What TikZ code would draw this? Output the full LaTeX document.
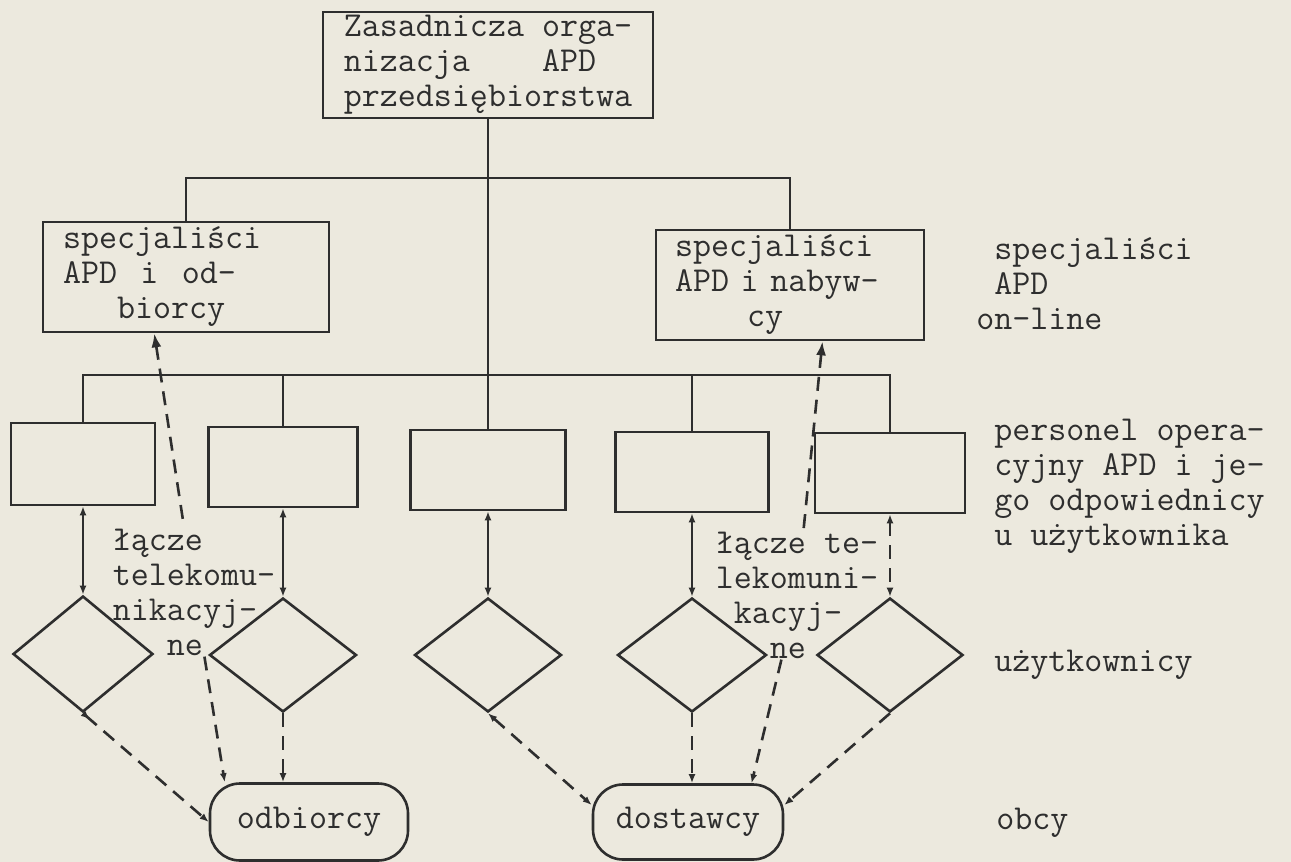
\documentclass[tikz,border=0pt]{standalone}
\usepackage{fontspec}
\usetikzlibrary{arrows.meta,calc,shapes.geometric}
\definecolor{paper}{HTML}{ECE9DE}
\definecolor{ink}{HTML}{2E2E2E}

\begin{document}
\begin{tikzpicture}[x=1pt,y=-1pt,>={Latex[length=9pt,width=7pt]},color=ink,line width=2.6pt,
    every node/.style={font=\fontsize{35}{35}\selectfont\ttfamily\addfontfeatures{FakeBold=3}},
    box/.style={draw,rectangle,inner sep=0pt},
    dia/.style={draw,diamond,inner sep=0pt,minimum height=114pt},
    term/.style={draw,rectangle,rounded corners=30pt,inner sep=0pt},
    lbl/.style={align=left,inner sep=0pt},
    link/.style={dash pattern=on 14pt off 9pt}]
  \fill[paper] (0,0) rectangle (1291,862);
  \useasboundingbox (0,0) rectangle (1291,862);

  % top of the tree
  \node[box,minimum width=330pt,minimum height=106pt,align=left] (top) at (488,65)
    {Zasadnicza orga-\\nizacja~~~~APD\\przedsiębiorstwa};
  \node[box,minimum width=286pt,minimum height=110pt,text width=246pt,align=left] (spl) at (186,277)
    {specjaliści\\APD~~i~~od-\\\hphantom{xxx}biorcy};
  \node[box,minimum width=268pt,minimum height=110pt,text width=230pt,align=left] (spr) at (790,285)
    {specjaliści\\APD i nabyw-\\\hphantom{xxxx}cy};

  % operating staff
  \node[box,minimum width=144pt,minimum height=82pt] (b1) at (83,464) {};
  \node[box,minimum width=149pt,minimum height=80pt] (b2) at (283,467) {};
  \node[box,minimum width=155pt,minimum height=80pt] (b3) at (488,470) {};
  \node[box,minimum width=153pt,minimum height=80pt] (b4) at (692,472) {};
  \node[box,minimum width=150pt,minimum height=80pt] (b5) at (890,473) {};

  % users
  \node[dia,minimum width=140pt,minimum height=116pt] (d1) at (83,654) {};
  \node[dia,minimum width=147pt] (d2) at (283,655) {};
  \node[dia,minimum width=147pt] (d3) at (488,655) {};
  \node[dia,minimum width=149pt] (d4) at (692,655) {};
  \node[dia,minimum width=146pt] (d5) at (890,655) {};

  % outsiders
  \node[term,minimum width=198pt,minimum height=77pt] (odb) at (309,822) {odbiorcy};
  \node[term,minimum width=190pt,minimum height=75pt] (dos) at (688,822) {dostawcy};

  % link labels
  \node[lbl] (lkl) at (194,592) {łącze\\telekomu-\\nikacyj-\\\hphantom{xxx}ne};
  \node[lbl] (lkr) at (797,595) {łącze te-\\lekomuni-\\\hphantom{x}kacyj-\\\hphantom{xxx}ne};

  % level names
  \node[lbl,anchor=north west] (rspec) at (975,236) {\hphantom{x}specjaliści\\\hphantom{x}APD\\on-line};
  \node[lbl,anchor=north west] (rpers) at (993,418) {personel opera-\\cyjny APD i je-\\go odpowiednicy\\u użytkownika};
  \node[lbl,anchor=west] (ruzyt) at (993,665) {użytkownicy};
  \node[lbl,anchor=west] (robcy) at (995,823) {obcy};

  % tree
  \coordinate (ubus) at (488,178);
  \coordinate (lbus) at (488,375);
  \draw (top) -- (b3);
  \draw (spl.north) |- (ubus) -| (spr.north);
  \draw (b1.north) |- (lbus) -| (b5.north);
  \draw (b2.north) -- (b2.north |- lbus);
  \draw (b4.north) -- (b4.north |- lbus);

  % staff <-> users
  \foreach \i in {1,...,4}
    \draw[<->] (b\i) -- (d\i);
  \draw[link,<->] (b5) -- (d5);

  % users -> outsiders
  \draw[link,{Latex[reversed,length=9pt,width=7pt]}-{>}] (d1.south) -- (odb.west);
  \draw[link,->] (d2.south) -- (d2.south |- odb.north);
  \draw[link,<->] (d3.south) -- (dos.170);
  \draw[link,->] (d4.south) -- (d4.south |- dos.north);
  \draw[link,->] (d5.south) -- (dos.10);

  % telecom links
  \draw[link,{Latex[length=14pt,width=10pt]}-] ($(spl.south west)!0.39!(spl.south east)$) -- (lkl);
  \draw[link,->] (lkl) -- ($(odb.north west)!0.08!(odb.north east)$);
  \draw[link,{Latex[length=14pt,width=10pt]}-] ($(spr.south west)!0.62!(spr.south east)$) -- (lkr);
  \draw[link,->] (lkr) -- ($(dos.north west)!0.83!(dos.north east)$);
\end{tikzpicture}
\end{document}
